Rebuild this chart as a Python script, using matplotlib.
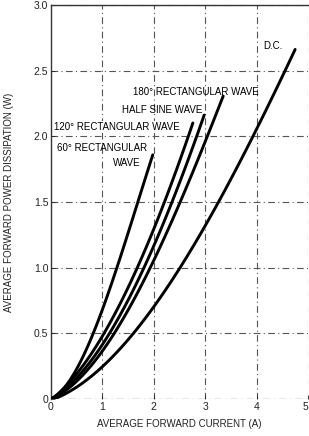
import matplotlib
matplotlib.use("Agg")
import matplotlib.pyplot as plt
import numpy as np

plt.rcParams['font.family'] = ['Liberation Sans Narrow', 'Liberation Sans', 'DejaVu Sans']

# Data (current A, power W)
x_60 = [0, 0.40, 0.82, 1.30, 1.67, 1.98]
y_60 = [0, 0.17, 0.50, 1.00, 1.50, 1.85]

x_120 = [0, 0.50, 0.99, 1.70, 2.20, 2.67, 2.76]
y_120 = [0, 0.17, 0.50, 1.00, 1.50, 2.00, 2.10]

x_sine = [0, 0.50, 1.11, 1.83, 2.35, 2.82, 2.98]
y_sine = [0, 0.15, 0.50, 1.00, 1.50, 2.00, 2.15]

x_180 = [0, 0.60, 1.21, 1.95, 2.51, 3.03, 3.35]
y_180 = [0, 0.17, 0.50, 1.00, 1.50, 2.00, 2.30]

x_dc = [0, 1.00, 1.60, 2.46, 3.25, 3.99, 4.52, 4.75]
y_dc = [0, 0.22, 0.50, 1.00, 1.50, 2.00, 2.50, 2.66]

x_ticks = [0, 1, 2, 3, 4, 5]
x_ticklabels = ['0', '1', '2', '3', '4', '5']
y_ticks = [0, 0.5, 1.0, 1.5, 2.0, 2.5, 3.0]
y_ticklabels = ['0', '0.5', '1.0', '1.5', '2.0', '2.5', '3.0']

fig = plt.figure(figsize=(3.09, 4.36), dpi=100)
ax = fig.add_axes([51/309, 37/436, 257/309, 394/436])
ax.set_xlim(0, 5)
ax.set_ylim(0, 3.0)

# grid
dashdot = (0, (6, 3, 1, 3))
for xv in x_ticks[1:]:
    ax.axvline(xv, color='#555555', lw=0.8, ls=dashdot, zorder=1)
for yv in y_ticks[1:]:
    ax.axhline(yv, color='#555555', lw=0.8, ls=dashdot, zorder=1)

# smooth curves through the read points
for xs, ys in [(x_60, y_60), (x_120, y_120), (x_sine, y_sine), (x_180, y_180), (x_dc, y_dc)]:
    coef = np.polyfit(xs, ys, 3)
    xx = np.linspace(0, xs[-1], 120)
    yy = np.clip(np.polyval(coef, xx), 0, None)
    yy[0] = 0
    ax.plot(xx, yy, color='black', lw=2.1, solid_capstyle='round', solid_joinstyle='round', zorder=3)

for side in ['right', 'bottom']:
    ax.spines[side].set_visible(False)
for side in ['left', 'top']:
    ax.spines[side].set_color('#333333')
    ax.spines[side].set_linewidth(1.0)
ax.axhline(0, color='#444444', lw=0.9, ls=dashdot, zorder=1)

ax.set_xticks(x_ticks)
ax.set_xticklabels(x_ticklabels)
ax.set_yticks(y_ticks)
ax.set_yticklabels(y_ticklabels)
ax.tick_params(axis='both', length=3, direction='in', width=0.6, labelsize=7.5, pad=2, colors='#222222')
lab = ax.get_xticklabels()[-1]
lab.set_horizontalalignment('right')

ax.set_xlabel('AVERAGE FORWARD CURRENT (A)', fontsize=7, labelpad=5, color='#222222')
ax.set_ylabel('AVERAGE FORWARD POWER DISSIPATION (W)', fontsize=7, labelpad=14, color='#222222')

fs = 7
ax.text(4.12, 2.69, 'D.C.', fontsize=fs, ha='left', va='center', zorder=4)
ax.text(1.60, 2.34, '180° RECTANGULAR WAVE', fontsize=fs, ha='left', va='center', zorder=4)
ax.text(1.38, 2.20, 'HALF SINE WAVE', fontsize=fs, ha='left', va='center', zorder=4)
ax.text(0.06, 2.07, '120° RECTANGULAR WAVE', fontsize=fs, ha='left', va='center', zorder=4,
        bbox=dict(facecolor='white', edgecolor='none', pad=0.5))
ax.text(0.12, 1.91, '60° RECTANGULAR', fontsize=fs, ha='left', va='center', zorder=4)
ax.text(1.20, 1.80, 'WAVE', fontsize=fs, ha='left', va='center', zorder=4)

fig.savefig('out.png', dpi=100)
